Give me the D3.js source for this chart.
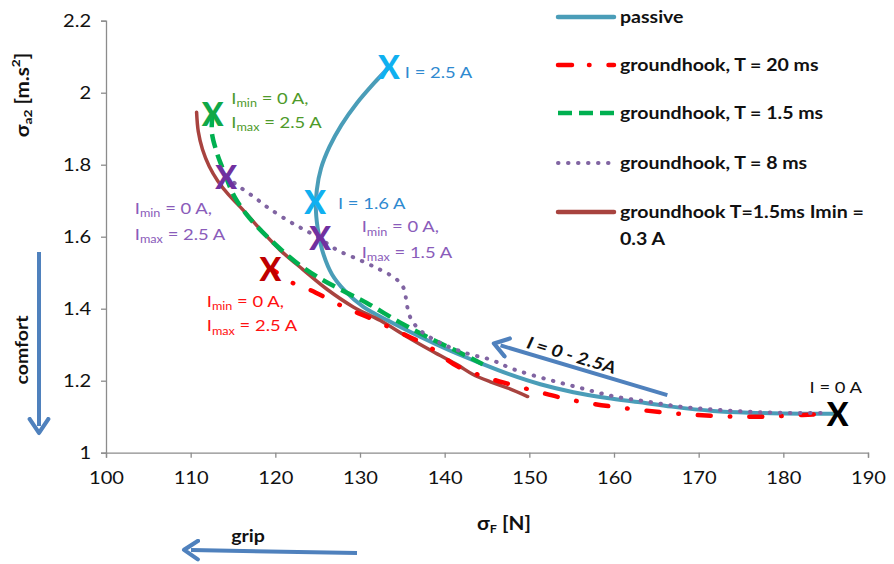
<!DOCTYPE html>
<html><head><meta charset="utf-8">
<script src="https://cdn.jsdelivr.net/npm/d3@7"></script>
<style>
body{margin:0;background:#fff;}
svg{font-family:Lato, "Open Sans", sans-serif;}
</style></head>
<body><svg id="c" width="894" height="564"></svg>
<script>
// ---------- data ----------
const xTicks = [100,110,120,130,140,150,160,170,180,190];
const yTicks = [1,1.2,1.4,1.6,1.8,2,2.2];
const yTickLabels = ["1","1.2","1.4","1.6","1.8","2","2.2"];

const passive = [[133.4,2.070],[131.6,2.025],[129.6,1.970],[127.8,1.910],[126.4,1.850],[125.4,1.790],[124.9,1.730],[124.8,1.670],[125.1,1.610],[125.7,1.550],[126.7,1.495],[128.2,1.450],[130.4,1.405],[133.3,1.367],[137.1,1.322],[140.6,1.284],[144.2,1.249],[147.6,1.218],[151.3,1.190],[155.2,1.168],[159.2,1.152],[163.1,1.140],[166.8,1.128],[171.7,1.116],[176,1.111],[180,1.109],[185.9,1.108]];
const gh20 = [[119.4,1.513],[122.1,1.471],[124.1,1.452],[126.5,1.424],[128.5,1.400],[130.8,1.378],[133.5,1.348],[135.8,1.322],[137.8,1.300],[139.6,1.270],[141.5,1.240],[144.8,1.210],[147.7,1.190],[150.9,1.170],[153.9,1.152],[156.9,1.138],[160.1,1.127],[163.4,1.118],[166.6,1.110],[169.6,1.105],[172.8,1.101],[176.1,1.100],[179.0,1.101],[182.3,1.105],[185.3,1.108]];
const gh15 = [[112.6,1.943],[112.5,1.890],[113.1,1.833],[113.7,1.794],[114.3,1.758],[115.2,1.710],[116.5,1.665],[117.9,1.627],[120.4,1.570],[122.9,1.521],[125.3,1.484],[127.8,1.452],[130.8,1.416],[134.7,1.362],[137.9,1.322],[141.2,1.285],[144.5,1.246]];
const gh8 = [[114.2,1.766],[115.8,1.738],[117.5,1.710],[119.0,1.683],[121.4,1.646],[123.2,1.622],[125.0,1.599],[127.3,1.563],[130.0,1.535],[132.4,1.508],[134.3,1.482],[135.2,1.455],[135.5,1.416],[135.9,1.378],[137.0,1.342],[139.4,1.306],[142.6,1.276],[145.5,1.258],[148.1,1.232],[152.1,1.204],[156.0,1.180],[159.9,1.157],[163.9,1.142],[167.8,1.128],[171.7,1.120],[175.7,1.114],[179.6,1.111],[185.2,1.110]];
const gh15min = [[110.7,1.946],[110.9,1.892],[111.4,1.842],[112.2,1.795],[113.2,1.755],[114.5,1.716],[116.2,1.674],[118.2,1.621],[120.6,1.562],[123.3,1.508],[126.1,1.454],[129.2,1.405],[132.4,1.367],[135.5,1.323],[138.6,1.281],[141.5,1.244],[143.3,1.218],[145.4,1.197],[147.4,1.180],[149.8,1.156]];

const seriesNames = ["passive","groundhook, T = 20 ms","groundhook, T = 1.5 ms","groundhook, T = 8 ms","groundhook T=1.5ms Imin = "];
const seriesColors = ["#4A9DB8","#FF0000","#00B050","#8064A2","#A8433F"];

// markers: [x, y, color]
const markers = [[133.4,2.074,"#10B0F0"],[124.7,1.699,"#10B0F0"],[112.6,1.943,"#10A848"],[114.2,1.766,"#7030A0"],[125.3,1.599,"#7030A0"],[119.4,1.513,"#C00000"],[186.4,1.110,"#000000"]];

// ---------- setup ----------
const SX = 1.15; // horizontal text stretch as in reference
const svg = d3.select("#c");
const x = d3.scaleLinear().domain([100,190]).range([106,868]);
const y = d3.scaleLinear().domain([1,2.2]).range([452.7,20.7]);
const axisColor = "#8C8C8C";

// axes
const gx = svg.append("g").attr("transform",`translate(0,${y(1)})`)
  .call(d3.axisBottom(x).tickValues(xTicks).tickSize(5).tickPadding(14).tickFormat(d3.format("d")));
const gy = svg.append("g").attr("transform",`translate(${x(100)},0)`)
  .call(d3.axisLeft(y).tickValues(yTicks).tickSize(5).tickPadding(8).tickFormat((d,i)=>yTickLabels[i]));
[gx,gy].forEach(g=>{
  g.select(".domain").attr("stroke",axisColor).attr("stroke-width",1.3);
  g.selectAll(".tick line").attr("stroke",axisColor).attr("stroke-width",1.3);
  g.selectAll(".tick text").attr("fill","#111").attr("font-size",17.5).attr("font-family","Lato")
    .attr("transform",`scale(${SX},1)`);
});

// lines
const line = d3.line().x(d=>x(d[0])).y(d=>y(d[1])).curve(d3.curveCatmullRom.alpha(0.5));
const styles = [
  {data:passive, color:seriesColors[0], w:4, dash:null, cap:"round", off:0},
  {data:gh15min, color:seriesColors[4], w:3.5, dash:null, cap:"round", off:0},
  {data:gh20, color:seriesColors[1], w:4.5, dash:"13,19,0.5,19", cap:"round", off:5},
  {data:gh15, color:seriesColors[2], w:4.5, dash:"14,7", cap:"butt", off:0},
  {data:gh8, color:seriesColors[3], w:4, dash:"0.5,9.5", cap:"round", off:0}
];
styles.forEach(s=>{
  svg.append("path").datum(s.data).attr("d",line).attr("fill","none")
    .attr("stroke",s.color).attr("stroke-width",s.w)
    .attr("stroke-dasharray",s.dash).attr("stroke-dashoffset",s.off).attr("stroke-linecap",s.cap);
});

// markers
svg.selectAll("text.mk").data(markers).join("text").attr("class","mk")
  .attr("x",d=>x(d[0])).attr("y",d=>y(d[1])).attr("text-anchor","middle")
  .attr("dominant-baseline","central").attr("font-size",32).attr("font-weight",900)
  .attr("font-family","Lato").attr("fill",d=>d[2]).text("X");

// stretched text helper
function stext(px,py,opts){
  const g = svg.append("g").attr("transform",`translate(${px},${py}) rotate(${opts.rot||0}) scale(${SX},1)`);
  return g.append("text").attr("x",0).attr("y",0).attr("dominant-baseline","central")
    .attr("text-anchor",opts.anchor||"start").attr("font-size",opts.fs||17)
    .attr("font-weight",opts.fw||400).attr("font-style",opts.fst||"normal")
    .attr("fill",opts.color||"#111");
}
function ann(px,py,color,parts,fs){
  const t = stext(px,py,{color:color,fs:fs||16});
  parts.forEach(p=>{
    if(typeof p==="string") t.append("tspan").text(p);
    else t.append("tspan").attr("font-size",p.fs||11).attr("dy",p.dy).text(p.t);
  });
  return t;
}
function imLabel(dx,dy1,dy2,color,maxv){
  ann(x(dx),y(dy1),color,["I",{t:"min",dy:5},{t:" = 0 A,",dy:-5,fs:16}]);
  ann(x(dx),y(dy2),color,["I",{t:"max",dy:5},{t:" = "+maxv+" A",dy:-5,fs:16}]);
}
ann(x(135.3),y(2.0575),"#2F8AD0",["I = 2.5 A"]);
ann(x(127.4),y(1.696),"#2F8AD0",["I = 1.6 A"]);
imLabel(114.8,1.988,1.921,"#4E9A2A","2.5");
imLabel(103.4,1.682,1.610,"#8A5CBA","2.5");
imLabel(130.2,1.630,1.560,"#8A5CBA","1.5");
imLabel(111.9,1.424,1.355,"#FF1010","2.5");
ann(x(183.1),y(1.185),"#111",["I = 0 A"]);

// arrows
const defs = svg.append("defs");
defs.append("marker").attr("id","ah").attr("viewBox","0 0 10 10").attr("refX",4).attr("refY",5)
  .attr("markerWidth",5.8).attr("markerHeight",5.8).attr("orient","auto-start-reverse")
  .append("path").attr("d","M1,1 L7,5 L1,9").attr("fill","none").attr("stroke","#4F81BD").attr("stroke-width",1.8)
  .attr("stroke-linecap","round").attr("stroke-linejoin","round");
function arrow(x1,y1,x2,y2){
  svg.append("line").attr("x1",x1).attr("y1",y1).attr("x2",x2).attr("y2",y2)
    .attr("stroke","#4F81BD").attr("stroke-width",4).attr("marker-end","url(#ah)");
}
arrow(x(166.3),y(1.160),x(146.6),y(1.298));
const ang = Math.atan2(y(1.160)-y(1.298), x(166.3)-x(146.6))*180/Math.PI;
stext(x(155.0),y(1.272),{rot:ang,anchor:"middle",fs:17,fw:700,fst:"italic"}).text("I = 0 - 2.5A");
arrow(39,252,39,426);
arrow(357,553,191,550);
stext(22,350,{rot:-90,anchor:"middle",fs:17,fw:700}).text("comfort");
stext(248,536,{anchor:"middle",fs:17,fw:700}).text("grip");

// axis titles
const xt = stext(504,523,{anchor:"middle",fs:18,fw:700});
xt.append("tspan").text("σ"); xt.append("tspan").attr("font-size",11).attr("dy",5).text("F");
xt.append("tspan").attr("dy",-5).text(" [N]");
const yt = stext(22,95,{rot:-90,anchor:"middle",fs:18,fw:700});
yt.append("tspan").text("σ"); yt.append("tspan").attr("font-size",12).attr("dy",5).text("a2");
yt.append("tspan").attr("dy",-5).text(" [m.s"); yt.append("tspan").attr("font-size",12).attr("dy",-7).text("2");
yt.append("tspan").attr("dy",7).text("]");

// legend
const legRows = [17,65,113,163,212];
const legStyles = [
  {dash:null,cap:"round",w:4.5},
  {dash:"14,17,0.5,19",cap:"round",w:4.5},
  {dash:"14,7",cap:"butt",w:4.5},
  {dash:"0.5,9.5",cap:"round",w:4},
  {dash:null,cap:"round",w:4.5}
];
legRows.forEach((ry,i)=>{
  svg.append("line").attr("x1",558).attr("x2",614).attr("y1",ry).attr("y2",ry)
    .attr("stroke",seriesColors[i]).attr("stroke-width",legStyles[i].w)
    .attr("stroke-dasharray",legStyles[i].dash).attr("stroke-linecap",legStyles[i].cap);
  stext(620,ry,{fs:17,fw:700}).text(seriesNames[i]);
});
stext(620,239,{fs:17,fw:700}).text("0.3 A");
</script></body></html>
